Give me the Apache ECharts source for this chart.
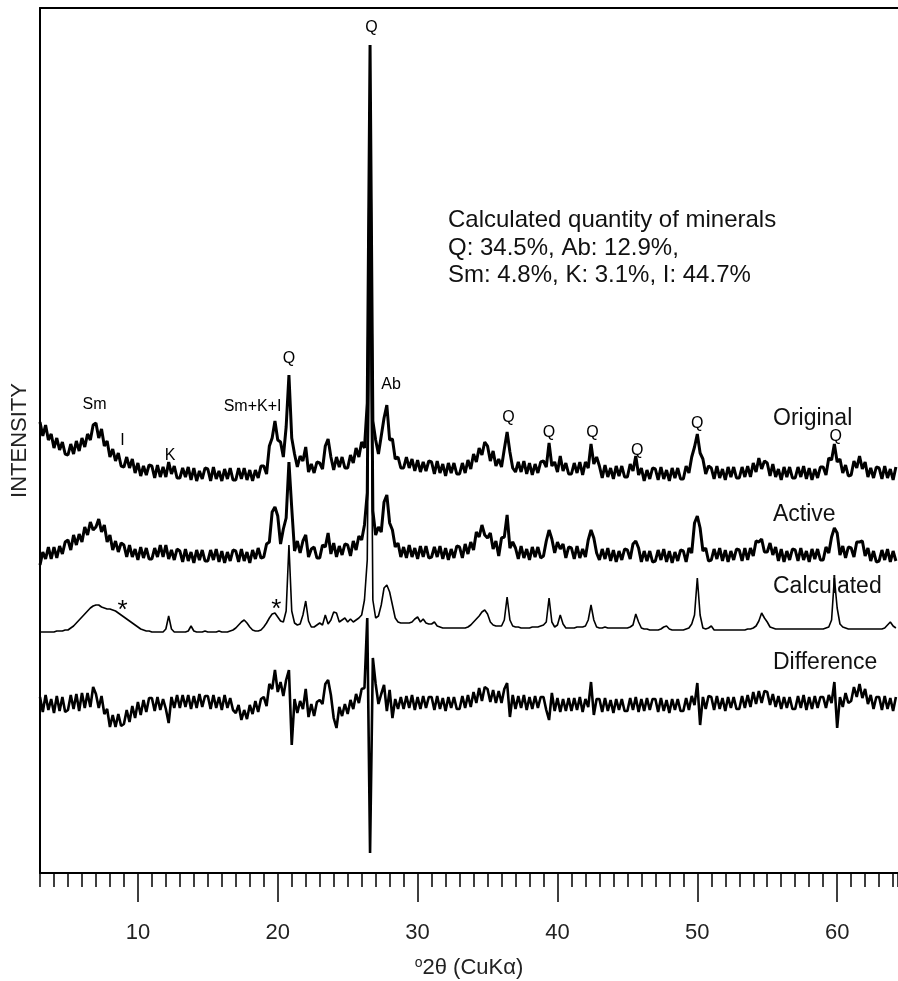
<!DOCTYPE html>
<html>
<head>
<meta charset="utf-8">
<script src="https://cdn.jsdelivr.net/npm/echarts@6/dist/echarts.min.js"></script>
<style>
html, body { margin: 0; padding: 0; background: #fff; }
#chart { width: 898px; height: 981px; }
</style>
</head>
<body>
<div id="chart"></div>
<script>
// scan: 2theta from 3.0 deg, step 0.2 deg (307 steps)
var scanStart = 3.0, scanStep = 0.2, scanCount = 307;
var twoTheta = [];
for (var i = 0; i < scanCount; i++) twoTheta.push(+(scanStart + i * scanStep).toFixed(1));

// intensities (arb. units, traces stacked with their own offsets)
var original = [
451,437,448,433,439,425,435,423,431,419,
418,429,419,432,422,435,426,439,433,448,
450,435,444,427,432,416,424,412,420,407,
406,416,405,414,400,410,397,407,398,408,
407,395,408,396,406,396,411,399,407,395,
395,405,396,406,393,405,392,402,394,405,
404,392,406,394,402,392,404,394,405,393,
393,405,394,405,393,403,392,403,395,407,
407,399,427,435,452,433,431,416,446,498,
435,419,406,417,412,426,401,409,400,411,
410,404,427,434,416,403,416,406,416,405,
405,418,410,425,416,431,425,470,828,452,
433,419,437,455,468,433,434,414,416,405,
405,416,405,414,402,413,401,411,402,412,
411,399,412,400,409,397,410,400,410,399,
399,410,400,413,404,419,411,425,418,431,
427,412,422,407,414,406,424,441,421,405,
401,411,401,412,399,410,398,409,400,411,
412,406,430,407,411,401,417,402,410,399,
399,410,400,411,398,411,405,429,409,416,
407,395,408,396,405,394,407,397,407,396,
396,409,402,417,398,405,392,403,394,405,
404,393,406,394,403,392,405,395,405,394,
394,407,400,416,426,439,420,414,399,407,
405,394,407,395,404,393,406,396,406,395,
395,406,396,407,396,410,401,415,404,412,
410,397,409,396,404,393,406,396,406,395,
395,406,396,407,394,405,393,404,395,406,
406,398,415,413,429,411,414,400,408,397,
398,412,405,417,404,411,396,405,395,406,
405,394,407,395,404,393,406
];

var active = [
308,321,314,326,314,326,315,327,319,331,
333,323,338,328,339,331,346,338,351,343,
346,354,341,348,331,338,323,332,321,330,
328,316,328,316,324,313,326,315,325,314,
314,325,316,328,316,328,314,323,313,324,
322,311,324,312,321,310,323,313,323,312,
312,323,313,324,311,322,310,321,312,323,
322,311,324,312,321,310,323,314,325,315,
316,329,331,361,366,357,329,344,355,411,
365,322,332,320,332,338,316,324,326,315,
315,328,326,340,319,330,316,327,318,329,
328,317,332,323,337,333,348,380,740,362,
338,346,341,371,378,350,343,326,330,316,
326,315,328,316,325,314,327,316,327,315,
316,326,316,327,314,325,313,324,315,327,
326,315,329,319,331,323,341,336,348,338,
335,340,324,332,317,335,336,358,325,331,
325,314,327,315,324,313,326,316,326,315,
317,332,343,334,320,331,324,329,315,326,
325,314,327,315,324,316,333,343,335,320,
313,324,314,325,312,323,311,322,313,324,
323,314,329,332,325,311,322,312,322,311,
312,323,313,324,311,322,310,321,312,323,
322,311,325,320,350,357,345,322,325,312,
313,324,314,325,312,323,311,322,313,324,
323,312,325,313,325,317,332,331,334,321,
321,330,318,326,312,324,311,322,313,324,
323,312,325,313,322,311,324,314,324,313,
313,326,320,336,345,340,318,327,315,326,
325,316,331,331,332,317,325,312,322,311,
312,323,313,324,311,322,312
];

var calculated = [
241,241,241,241,241,241,242,242,242,243,
243,245,247,250,253,256,259,262,265,267,
268,268,266,265,264,264,263,262,260,258,
256,254,252,250,248,246,244,243,242,242,
241,241,241,241,241,244,257,244,241,241,
241,241,241,242,247,242,241,241,241,242,
241,241,241,241,242,241,241,241,242,243,
245,248,251,253,250,246,243,242,242,243,
246,250,255,259,260,256,252,251,262,328,
262,250,248,249,258,272,252,246,246,248,
250,248,258,249,253,261,260,251,253,255,
251,254,251,253,255,258,273,313,650,273,
255,257,268,285,288,281,268,255,251,250,
250,250,250,251,254,256,251,254,250,249,
249,251,247,246,245,245,245,245,245,245,
245,245,245,246,248,251,254,257,261,263,
259,251,248,247,247,247,253,276,253,247,
246,246,245,245,245,245,246,246,246,247,
248,251,275,251,246,248,258,249,245,245,
245,245,246,246,246,247,253,268,253,246,
245,245,246,245,245,245,245,245,245,245,
245,246,248,259,251,245,244,244,243,243,
243,243,244,246,247,244,243,243,243,243,
243,244,245,249,258,295,258,245,244,245,
247,243,243,243,243,243,243,243,243,243,
243,243,243,244,244,245,247,252,260,255,
251,246,245,244,244,244,244,244,244,244,
244,244,244,244,244,244,244,244,244,244,
244,245,246,253,295,265,249,246,245,244,
244,244,244,244,244,244,244,244,244,244,
244,244,245,248,251,247,245
];

var difference = [
176,161,178,163,174,160,177,162,176,161,
163,178,164,179,162,180,165,180,166,186,
179,165,177,159,164,146,158,146,159,147,
149,163,151,167,155,171,158,173,161,175,
175,162,176,163,174,164,150,176,165,178,
165,178,166,178,164,177,165,179,166,177,
177,164,178,165,176,163,178,165,175,163,
160,168,153,163,154,168,159,172,161,174,
176,167,189,184,203,181,191,177,193,203,
128,174,160,172,164,184,156,169,157,171,
173,169,189,193,178,155,145,166,157,169,
159,173,164,179,170,184,185,255,20,215,
189,169,179,188,162,183,155,174,164,176,
164,177,165,178,163,176,164,177,165,176,
176,163,177,164,175,162,176,165,176,164,
164,177,165,178,166,181,170,185,172,186,
184,171,183,170,182,170,184,190,156,178,
164,177,165,178,163,176,164,177,165,176,
176,163,153,180,162,175,161,174,162,175,
162,175,163,176,161,174,166,191,158,174,
174,161,175,162,173,160,174,163,174,162,
162,175,163,176,161,174,162,175,163,174,
174,161,175,162,173,160,174,163,174,162,
162,175,163,177,168,190,148,176,164,177,
176,163,177,164,175,162,176,165,176,164,
164,177,165,178,166,181,169,182,170,182,
181,168,179,166,177,164,176,165,176,164,
164,177,165,178,163,176,164,177,165,176,
176,165,178,170,191,145,176,166,180,170,
172,186,176,189,175,184,169,178,164,176,
176,163,177,164,175,162,176
];

// peak assignments: [2theta, intensity, label]
var peakLabels = [
    [26.7, 845, 'Q'], [6.9, 468, 'Sm'], [8.9, 432, 'I'], [12.3, 417, 'K'],
    [18.2, 466, 'Sm+K+I'], [20.8, 514, 'Q'], [28.1, 488, 'Ab'],
    [36.5, 455, 'Q'], [39.4, 440, 'Q'], [42.5, 440, 'Q'], [45.7, 422, 'Q'],
    [50.0, 449, 'Q'], [59.9, 436, 'Q']
];
var starLabels = [[8.9, 262, '*'], [19.9, 263, '*']];
var majorTicks = [10, 20, 30, 40, 50, 60];
var traceNames = ['Original', 'Active', 'Calculated', 'Difference'];
var traceNameTop = [406, 502, 574, 650];
var quantityText = ['Calculated quantity of minerals', 'Q: 34.5%, Ab: 12.9%,', 'Sm: 4.8%, K: 3.1%, I: 44.7%'];

var FONT = "'Liberation Sans', Arial, sans-serif";
var X_MIN = 3, X_MAX = 64.35;

function pairs(arr) {
    var out = [];
    for (var i = 0; i < arr.length; i++) out.push([twoTheta[i], arr[i]]);
    return out;
}
function labelData(list) {
    return list.map(function (p) { return { value: [p[0], p[1]], name: p[2] }; });
}
function trace(name, arr, width) {
    return {
        name: name,
        type: 'line',
        data: pairs(arr),
        showSymbol: false,
        symbol: 'none',
        silent: true,
        lineStyle: { color: '#000', width: width },
        z: 2
    };
}
function labelSeries(list, size) {
    return {
        type: 'scatter',
        data: labelData(list),
        symbolSize: 0,
        itemStyle: { color: '#000' },
        silent: true,
        z: 5,
        label: {
            show: true,
            position: 'inside',
            formatter: '{b}',
            fontSize: size,
            fontFamily: FONT,
            color: '#000',
            opacity: 1,
            textBorderWidth: 0
        }
    };
}

var graphics = [{
    type: 'text',
    left: 448,
    top: 207,
    style: {
        text: quantityText.join('\n'),
        fontSize: 24,
        fontFamily: FONT,
        lineHeight: 27.5,
        fill: '#111'
    }
}];
for (var k = 0; k < traceNames.length; k++) {
    graphics.push({
        type: 'text',
        left: 773,
        top: traceNameTop[k],
        style: { text: traceNames[k], fontSize: 23, fontFamily: FONT, lineHeight: 26, fill: '#111' }
    });
}

var chart = echarts.init(document.getElementById('chart'));
var option = {
    animation: false,
    backgroundColor: '#fff',
    grid: { left: 40, right: 0, top: 8, bottom: 108, outerBoundsMode: 'none' },
    xAxis: [
        {
            type: 'value', min: X_MIN, max: X_MAX, interval: 1, position: 'bottom',
            axisLine: { show: true, lineStyle: { color: '#000', width: 2 } },
            axisTick: { show: true, length: 14, lineStyle: { color: '#000', width: 1.5 } },
            axisLabel: { show: false },
            splitLine: { show: false }
        },
        {
            type: 'value', min: X_MIN, max: X_MAX, position: 'bottom',
            axisLine: { show: false },
            axisTick: { show: true, customValues: majorTicks, length: 29, lineStyle: { color: '#000', width: 1.5 } },
            axisLabel: { show: true, customValues: majorTicks, margin: 49, fontSize: 22, fontFamily: FONT, color: '#222' },
            splitLine: { show: false },
            name: '{sup|o}2θ (CuKα)',
            nameLocation: 'middle',
            nameGap: 83,
            nameTextStyle: {
                fontSize: 22, fontFamily: FONT, color: '#222',
                rich: { sup: { fontSize: 14, fontFamily: FONT, color: '#222', verticalAlign: 'top', padding: [0, 0, 10, 0] } }
            }
        },
        {
            type: 'value', min: X_MIN, max: X_MAX, position: 'top',
            axisLine: { show: true, lineStyle: { color: '#000', width: 2 } },
            axisTick: { show: false }, axisLabel: { show: false }, splitLine: { show: false }
        }
    ],
    yAxis: {
        type: 'value', min: 0, max: 865,
        axisLine: { show: true, lineStyle: { color: '#000', width: 2 } },
        axisTick: { show: false }, axisLabel: { show: false }, splitLine: { show: false },
        name: 'INTENSITY',
        nameLocation: 'middle',
        nameGap: 9,
        nameTextStyle: { fontSize: 22, fontFamily: FONT, color: '#222' }
    },
    graphic: graphics,
    series: [
        trace('Original', original, 3),
        trace('Active', active, 3),
        trace('Calculated', calculated, 1.6),
        trace('Difference', difference, 2.6),
        labelSeries(peakLabels, 16),
        labelSeries(starLabels, 26)
    ]
};
chart.setOption(option);
</script>
</body>
</html>
